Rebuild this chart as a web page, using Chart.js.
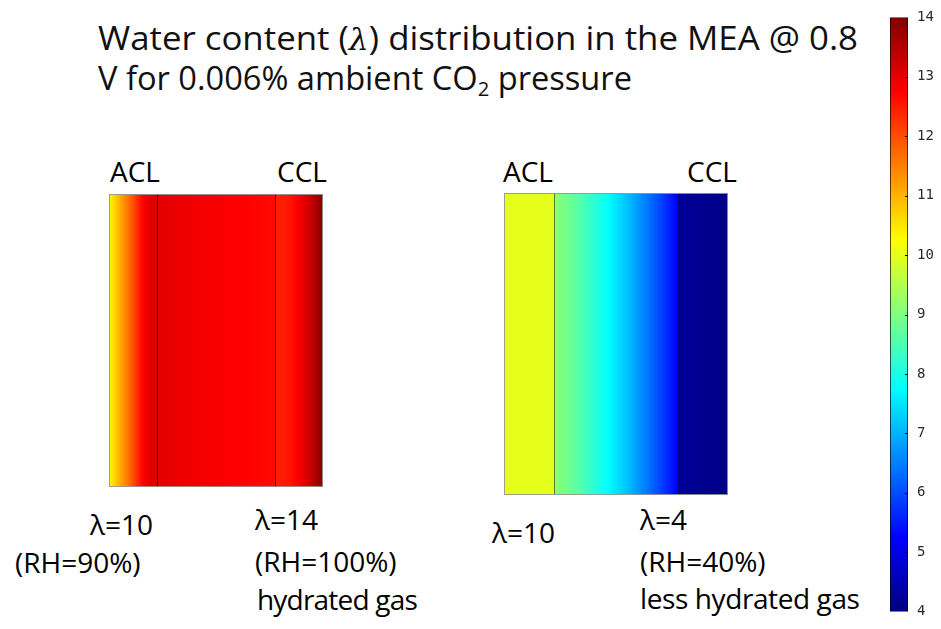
<!DOCTYPE html>
<html>
<head>
<meta charset="utf-8">
<script src="https://cdn.jsdelivr.net/npm/chart.js@4/dist/chart.umd.min.js"></script>
<style>
  html, body { margin: 0; padding: 0; background: #fff; }
  #stage { position: relative; width: 941px; height: 629px; overflow: hidden; background: #fff; }
  canvas { position: absolute; }
  .t { position: absolute; font-family: "Open Sans", sans-serif; font-size: 28px; line-height: 28px; color: #000; white-space: nowrap; }
  .title { font-size: 33px; line-height: 33px; color: #111; transform-origin: 0 0; }
  .title i { font-family: "DejaVu Serif", serif; font-size: 30px; }
  sub { font-size: 0.62em; line-height: 0; vertical-align: -0.3em; }
</style>
</head>
<body>
<div id="stage">
  <div class="t title" data-w="760" style="left:98px; top:21px;">Water content (<i>λ</i>) distribution in the MEA @ 0.8</div>
  <div class="t title" data-w="534" style="left:98px; top:61px;">V for 0.006% ambient CO<sub>2</sub> pressure</div>

  <div class="t" style="left:110px; top:157px;">ACL</div>
  <div class="t" style="left:277px; top:157px;">CCL</div>
  <div class="t" style="left:503px; top:157px;">ACL</div>
  <div class="t" style="left:687px; top:157px;">CCL</div>

  <div class="t" style="left:90px; top:510px;">λ=10</div>
  <div class="t" style="left:15px; top:548px;">(RH=90%)</div>
  <div class="t" style="left:255px; top:505px;">λ=14</div>
  <div class="t" style="left:255px; top:547px;">(RH=100%)</div>
  <div class="t" style="left:257px; top:585px; letter-spacing:-0.8px;">hydrated gas</div>

  <div class="t" style="left:492px; top:518px;">λ=10</div>
  <div class="t" style="left:640px; top:505px;">λ=4</div>
  <div class="t" style="left:640px; top:547px;">(RH=40%)</div>
  <div class="t" style="left:640px; top:584px; letter-spacing:-0.4px;">less hydrated gas</div>

  <canvas id="cL" width="214" height="293" style="left:109px; top:194px;"></canvas>
  <canvas id="cR" width="224" height="302" style="left:504px; top:193px;"></canvas>
  <canvas id="cB" width="51" height="629" style="left:890px; top:0px;"></canvas>
</div>
<script>
// ---------------- DATA ----------------
// Through-plane position (µm): ACL 0–10, membrane 10–35, CCL 35–45
const layerEdges = [0, 10, 35, 45];

// Left panel: hydrated cathode gas (RH 100%), anode RH 90%
const posLeftACL = [0, 1, 2, 3, 4, 5, 6, 7, 8, 9, 10];
const lamLeftACL = [10.3, 10.6, 10.95, 11.3, 11.6, 11.95, 12.35, 12.7, 12.95, 13.05, 13.1];
const posLeftMem = [10, 15, 20, 25, 30, 35];
const lamLeftMem = [13.02, 12.93, 12.85, 12.78, 12.72, 12.66];
const posLeftCCL = [35, 37, 38.5, 39.5, 41, 42.3, 43.5, 45];
const lamLeftCCL = [12.45, 12.5, 12.6, 12.75, 13.0, 13.25, 13.55, 14.0];

// Right panel: less hydrated cathode gas (RH 40%)
const posRightACL = [0, 10];
const lamRightACL = [10.0, 10.0];
const posRightMem = [10, 15, 20, 25, 30, 35];
const lamRightMem = [9.15, 8.6, 7.9, 7.1, 6.2, 5.2];
const posRightCCL = [35, 40, 45];
const lamRightCCL = [4.25, 4.15, 4.1];

// Colour bar
const cbMin = 4;
const cbMax = 14;
const cbTicks = [4, 5, 6, 7, 8, 9, 10, 11, 12, 13, 14];

// ---------------- helpers ----------------
function clamp01(v) { return Math.max(0, Math.min(1, v)); }
function jetT(t) {
  const r = clamp01(Math.min(4 * t - 1.5, -4 * t + 4.5));
  const g = clamp01(Math.min(4 * t - 0.5, -4 * t + 3.5));
  const b = clamp01(Math.min(4 * t + 0.5, -4 * t + 2.5));
  return 'rgb(' + Math.round(r * 255) + ',' + Math.round(g * 255) + ',' + Math.round(b * 255) + ')';
}
function lamT(l) { return clamp01((l - cbMin) / (cbMax - cbMin)); }
const knots = [0.125, 0.375, 0.625, 0.875];

function addStops(g, l0, l1) {
  const t0 = lamT(l0), t1 = lamT(l1);
  g.addColorStop(0, jetT(t0));
  if (t1 !== t0) {
    knots.forEach(k => {
      const f = (k - t0) / (t1 - t0);
      if (f > 0 && f < 1) g.addColorStop(f, jetT(k));
    });
  }
  g.addColorStop(1, jetT(t1));
}

function buildDatasets(layers) {
  const ds = [];
  layers.forEach(([pos, lam]) => {
    for (let i = 0; i < pos.length - 1; i++) {
      ds.push({
        data: [[pos[i], pos[i + 1]]],
        lam0: lam[i],
        lam1: lam[i + 1],
        grouped: false,
        barPercentage: 1,
        categoryPercentage: 1,
        borderWidth: 0,
        inflateAmount: 0.6,
        backgroundColor: (ctx) => {
          const chart = ctx.chart;
          if (!chart.chartArea) return 'transparent';
          const xs = chart.scales.x;
          const d = ctx.dataset;
          const p0 = xs.getPixelForValue(d.data[0][0]);
          const p1 = xs.getPixelForValue(d.data[0][1]);
          const g = chart.ctx.createLinearGradient(p0, 0, p1, 0);
          addStops(g, d.lam0, d.lam1);
          return g;
        }
      });
    }
  });
  return ds;
}

const panelDecor = {
  id: 'panelDecor',
  afterDatasetsDraw(chart, args, opts) {
    const { ctx, chartArea: a } = chart;
    const xs = chart.scales.x;
    ctx.save();
    ctx.strokeStyle = opts.lineColor;
    ctx.lineWidth = 1;
    layerEdges.slice(1, -1).forEach(v => {
      const x = Math.round(xs.getPixelForValue(v)) + 0.5;
      ctx.beginPath();
      ctx.moveTo(x, a.top);
      ctx.lineTo(x, a.bottom);
      ctx.stroke();
    });
    ctx.strokeStyle = 'rgba(150,150,150,0.9)';
    ctx.strokeRect(a.left + 0.5, a.top + 0.5, a.right - a.left - 1, a.bottom - a.top - 1);
    ctx.restore();
  }
};

function panel(id, layers, lineColor) {
  return new Chart(document.getElementById(id), {
    type: 'bar',
    data: { labels: ['λ'], datasets: buildDatasets(layers) },
    options: {
      indexAxis: 'y',
      responsive: false,
      animation: false,
      events: [],
      layout: { padding: 0 },
      plugins: { legend: { display: false }, tooltip: { enabled: false }, panelDecor: { lineColor } },
      scales: {
        x: { type: 'linear', min: layerEdges[0], max: layerEdges[layerEdges.length - 1], display: false },
        y: { type: 'category', display: false }
      }
    },
    plugins: [panelDecor]
  });
}

panel('cL', [[posLeftACL, lamLeftACL], [posLeftMem, lamLeftMem], [posLeftCCL, lamLeftCCL]], 'rgba(0,0,0,0.75)');
panel('cR', [[posRightACL, lamRightACL], [posRightMem, lamRightMem], [posRightCCL, lamRightCCL]], 'rgba(0,0,0,0.5)');

// ---------------- colour bar ----------------
const innerTicks = {
  id: 'innerTicks',
  afterDatasetsDraw(chart) {
    const { ctx, chartArea: a } = chart;
    const ys = chart.scales.y;
    ctx.save();
    ctx.strokeStyle = '#000';
    ctx.lineWidth = 1;
    cbTicks.slice(1, -1).forEach(v => {
      const y = Math.round(ys.getPixelForValue(v)) + 0.5;
      ctx.beginPath();
      ctx.moveTo(a.right - 3, y);
      ctx.lineTo(a.right, y);
      ctx.stroke();
    });
    ctx.restore();
  }
};

new Chart(document.getElementById('cB'), {
  type: 'bar',
  data: {
    labels: ['cb'],
    datasets: [{
      data: [[cbMin, cbMax]],
      barPercentage: 1,
      categoryPercentage: 1,
      borderColor: '#000',
      borderWidth: 1,
      borderSkipped: false,
      backgroundColor: (ctx) => {
        const chart = ctx.chart;
        if (!chart.chartArea) return 'transparent';
        const ys = chart.scales.y;
        const g = chart.ctx.createLinearGradient(0, ys.getPixelForValue(cbMin), 0, ys.getPixelForValue(cbMax));
        addStops(g, cbMin, cbMax);
        return g;
      }
    }]
  },
  options: {
    responsive: false,
    animation: false,
    events: [],
    layout: { padding: { top: -1, bottom: 0, left: 0, right: 0 } },
    plugins: { legend: { display: false }, tooltip: { enabled: false } },
    scales: {
      x: { type: 'category', display: false },
      y: {
        type: 'linear',
        position: 'right',
        min: cbMin,
        max: cbMax,
        afterBuildTicks: (s) => { s.ticks = cbTicks.map(v => ({ value: v })); },
        afterFit: (s) => { s.width = 33; },
        grid: { display: false, drawTicks: false },
        border: { display: false },
        ticks: {
          padding: 9,
          color: '#2a2a2a',
          font: { family: 'DejaVu Sans Mono', size: 14 }
        }
      }
    }
  },
  plugins: [innerTicks]
});

// fit title lines to the widths they occupy in the reference
document.querySelectorAll('.title').forEach(el => {
  const target = parseFloat(el.dataset.w);
  const w = el.getBoundingClientRect().width;
  if (w > 0) el.style.transform = 'scaleX(' + (target / w).toFixed(4) + ')';
});
</script>
</body>
</html>
